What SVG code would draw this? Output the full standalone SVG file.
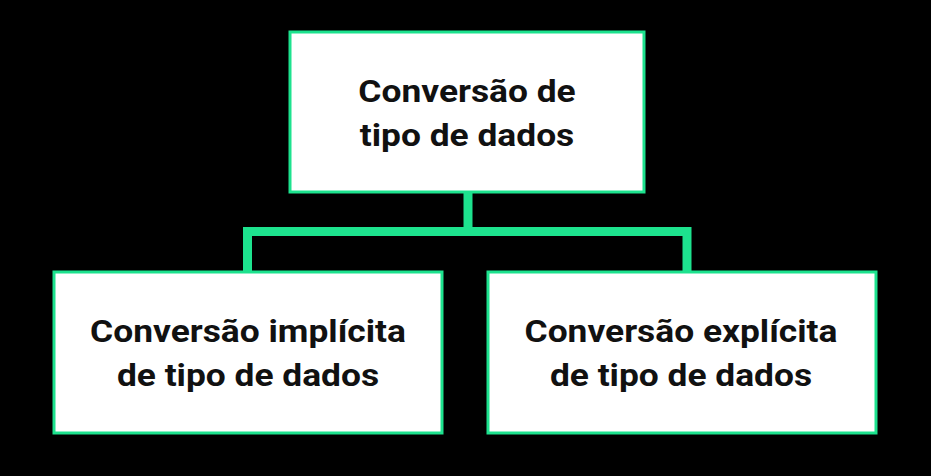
<svg xmlns="http://www.w3.org/2000/svg" width="931" height="476" viewBox="0 0 931 476">
<style>
.box{fill:#ffffff;stroke:#1de28e;stroke-width:3}
.lbl{font-family:Roboto,"Liberation Sans",sans-serif;font-weight:bold;font-size:31px;fill:#111111;text-anchor:middle}
.conn{fill:none;stroke:#1de28e;stroke-width:9}
</style>
<rect x="0" y="0" width="931" height="476" fill="#000000"/>
<g id="connectors">
<path class="conn" d="M468 193 V231.5 M247.5 271 V231.5 H687 V271"/>
</g>
<g id="root">
<rect class="box" x="290" y="32" width="354" height="160"/>
<g transform="translate(467 0) scale(1.14 1)">
<text class="lbl" x="0" y="102">Conversão de</text>
<text class="lbl" x="0" y="146">tipo de dados</text>
</g>
</g>
<g id="implicit">
<rect class="box" x="54" y="272" width="388" height="161"/>
<g transform="translate(248 0) scale(1.14 1)">
<text class="lbl" x="0" y="342">Conversão implícita</text>
<text class="lbl" x="0" y="386">de tipo de dados</text>
</g>
</g>
<g id="explicit">
<rect class="box" x="488" y="272" width="388" height="161"/>
<g transform="translate(681 0) scale(1.14 1)">
<text class="lbl" x="0" y="342">Conversão explícita</text>
<text class="lbl" x="0" y="386">de tipo de dados</text>
</g>
</g>
</svg>
